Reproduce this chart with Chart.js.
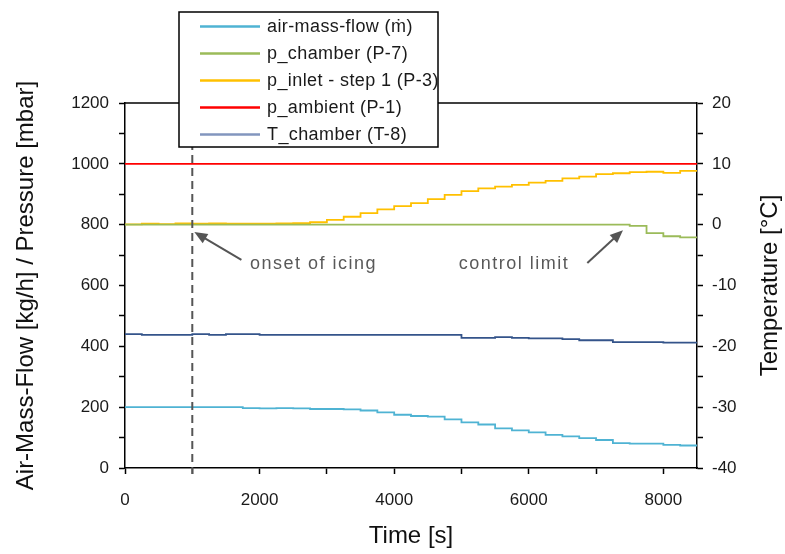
<!DOCTYPE html>
<html>
<head>
<meta charset="utf-8">
<script src="https://cdn.jsdelivr.net/npm/chart.js@4.4.0/dist/chart.umd.min.js"></script>
<style>
  html, body { margin: 0; padding: 0; background: #fff; }
</style>
</head>
<body>
<canvas id="chart" width="785" height="554"></canvas>
<script>
const timeS = [0, 250, 500, 750, 1000, 1250, 1500, 1750, 2000, 2250, 2500, 2750, 3000, 3250, 3500, 3750, 4000, 4250,
  4500, 4750, 5000, 5250, 5500, 5750, 6000, 6250, 6500, 6750, 7000, 7250, 7500, 7750, 8000, 8250, 8500];

const airMassFlow = [200, 200, 200, 200, 200, 200, 200, 200, 197, 196, 197, 196, 194, 194, 193, 189, 183, 175,
  171, 169, 160, 150, 143, 130, 124, 117, 109, 104, 98, 92, 82, 80, 80, 76, 74];
const pChamber = [800, 800, 800, 800, 800, 800, 800, 800, 800, 800, 800, 800, 800, 800, 800, 800, 800, 800,
  800, 800, 800, 800, 800, 800, 800, 800, 800, 800, 800, 800, 800, 796, 772, 762, 758];
const pInlet = [802, 801, 803, 802, 804, 803, 804, 803, 803, 803, 804, 805, 808, 816, 826, 838, 850, 861,
  871, 884, 898, 910, 919, 925, 931, 938, 944, 952, 958, 966, 969, 973, 974, 970, 977];
const pAmbient = [1000, 1000, 1000, 1000, 1000, 1000, 1000, 1000, 1000, 1000, 1000, 1000, 1000, 1000, 1000, 1000, 1000, 1000,
  1000, 1000, 1000, 1000, 1000, 1000, 1000, 1000, 1000, 1000, 1000, 1000, 1000, 1000, 1000, 1000, 1000];
const tChamber = [-18.1, -18.0, -18.1, -18.1, -18.1, -18.0, -18.1, -18.0, -18.0, -18.1, -18.1, -18.1, -18.1, -18.1, -18.1, -18.1, -18.1, -18.1,
  -18.1, -18.1, -18.1, -18.6, -18.6, -18.5, -18.6, -18.7, -18.7, -18.8, -19.0, -19.0, -19.3, -19.3, -19.3, -19.4, -19.4];

const seriesLabels = ["air-mass-flow (ṁ)", "p_chamber (P-7)", "p_inlet - step 1 (P-3)", "p_ambient (P-1)", "T_chamber (T-8)"];
const seriesColors = ["#4fb3d3", "#9bbb59", "#ffc000", "#ff0000", "#34548a"];

const xTicks = [0, 1000, 2000, 3000, 4000, 5000, 6000, 7000, 8000];
const xTickLabels = [0, 2000, 4000, 6000, 8000];
const leftTickLabels = [0, 200, 400, 600, 800, 1000, 1200];
const rightTickLabels = [-40, -30, -20, -10, 0, 10, 20];

// onset of icing marker, notes with arrows (data coords)
const icingTime = 1000;
const notes = [
  { text: "onset of icing", x: 2800, y: 672, tail: [1730, 684], head: [1030, 776] },
  { text: "control limit", x: 5780, y: 672, tail: [6870, 674], head: [7400, 782] }
];

const tickFont = { family: '"Liberation Sans", Arial, sans-serif', size: 17 };
const titleFont = { family: '"Liberation Sans", Arial, sans-serif', size: 24 };

function toPoints(arr) {
  return timeS.map((t, i) => ({ x: t, y: arr[i] }));
}

const frameAndNotes = {
  id: "frameAndNotes",
  afterDatasetsDraw(chart) {
    const { ctx, chartArea, scales } = chart;
    const { x, y } = scales;
    ctx.save();
    // top frame line
    ctx.strokeStyle = "#000";
    ctx.lineWidth = 1.5;
    ctx.beginPath();
    ctx.moveTo(chartArea.left, chartArea.top);
    ctx.lineTo(chartArea.right, chartArea.top);
    ctx.stroke();

    // dashed marker
    const xm = x.getPixelForValue(icingTime);
    ctx.strokeStyle = "#555";
    ctx.lineWidth = 2;
    ctx.setLineDash([8, 5]);
    ctx.beginPath();
    ctx.moveTo(xm, chartArea.top);
    ctx.lineTo(xm, chartArea.bottom + 6);
    ctx.stroke();
    ctx.setLineDash([]);

    notes.forEach((n) => {
      const x0 = x.getPixelForValue(n.tail[0]);
      const y0 = y.getPixelForValue(n.tail[1]);
      const x1 = x.getPixelForValue(n.head[0]);
      const y1 = y.getPixelForValue(n.head[1]);
      const ang = Math.atan2(y1 - y0, x1 - x0);
      ctx.strokeStyle = "#555";
      ctx.fillStyle = "#555";
      ctx.lineWidth = 2;
      ctx.beginPath();
      ctx.moveTo(x0, y0);
      ctx.lineTo(x1 - 8 * Math.cos(ang), y1 - 8 * Math.sin(ang));
      ctx.stroke();
      ctx.beginPath();
      ctx.moveTo(x1, y1);
      ctx.lineTo(x1 - 13 * Math.cos(ang) + 5.5 * Math.sin(ang), y1 - 13 * Math.sin(ang) - 5.5 * Math.cos(ang));
      ctx.lineTo(x1 - 13 * Math.cos(ang) - 5.5 * Math.sin(ang), y1 - 13 * Math.sin(ang) + 5.5 * Math.cos(ang));
      ctx.closePath();
      ctx.fill();

      ctx.font = '18px "Liberation Sans", Arial, sans-serif';
      ctx.letterSpacing = "1.5px";
      ctx.fillStyle = "#595959";
      ctx.textAlign = "center";
      ctx.textBaseline = "middle";
      ctx.fillText(n.text, x.getPixelForValue(n.x), y.getPixelForValue(n.y));
      ctx.letterSpacing = "0px";
    });
    ctx.restore();
  },
  afterDraw(chart) {
    const { ctx, chartArea } = chart;
    ctx.save();
    // right axis title, reading upward
    ctx.translate(770, (chartArea.top + chartArea.bottom) / 2);
    ctx.rotate(-Math.PI / 2);
    ctx.font = '24px "Liberation Sans", Arial, sans-serif';
    ctx.fillStyle = "#111";
    ctx.textAlign = "center";
    ctx.textBaseline = "middle";
    ctx.fillText("Temperature [°C]", 0, 0);
    ctx.restore();

    // boxed legend over the top of the plot
    ctx.save();
    ctx.fillStyle = "#fff";
    ctx.fillRect(179, 12, 259, 135);
    ctx.strokeStyle = "#000";
    ctx.lineWidth = 1.5;
    ctx.strokeRect(179, 12, 259, 135);
    ctx.font = '18px "Liberation Sans", Arial, sans-serif';
    ctx.letterSpacing = "0.4px";
    ctx.textBaseline = "middle";
    chart.data.datasets.forEach((ds, i) => {
      const ly = 26.5 + i * 27;
      ctx.strokeStyle = ds.legendColor || ds.borderColor;
      ctx.lineWidth = 2.5;
      ctx.beginPath();
      ctx.moveTo(200, ly);
      ctx.lineTo(260, ly);
      ctx.stroke();
      ctx.fillStyle = "#1a1a1a";
      ctx.fillText(ds.label, 267, ly + 1);
    });
    ctx.restore();
  }
};

const seriesData = [airMassFlow, pChamber, pInlet, pAmbient, tChamber];

new Chart(document.getElementById("chart"), {
  type: "line",
  data: {
    datasets: seriesData.map((arr, i) => ({
      label: seriesLabels[i],
      data: toPoints(arr),
      borderColor: seriesColors[i],
      legendColor: i === 4 ? "#8296be" : undefined,
      borderWidth: 1.8,
      pointRadius: 0,
      stepped: "after",
      yAxisID: i === 4 ? "y1" : "y",
    })),
  },
  options: {
    responsive: false,
    animation: false,
    layout: { padding: { top: 103, left: 0, right: 0, bottom: 0 } },
    plugins: {
      legend: { display: false },
      tooltip: { enabled: false },
    },
    scales: {
      x: {
        type: "linear",
        min: 0,
        max: 8500,
        afterBuildTicks: (s) => { s.ticks = xTicks.map((v) => ({ value: v })); },
        afterFit: (s) => { s.height = 86; },
        ticks: {
          autoSkip: false,
          maxRotation: 0,
          padding: 16,
          color: "#1a1a1a",
          font: tickFont,
          callback: (v) => (xTickLabels.includes(v) ? String(v) : ""),
        },
        grid: { drawOnChartArea: false, color: "#000", tickLength: 6, tickWidth: 1.5 },
        border: { color: "#000", width: 1.5 },
        title: { display: true, text: "Time [s]", font: titleFont, color: "#111", padding: { top: 0, bottom: 3 } },
      },
      y: {
        position: "left",
        min: 0,
        max: 1200,
        afterFit: (s) => { s.width = 125; },
        ticks: {
          stepSize: 100,
          autoSkip: false,
          padding: 10,
          color: "#1a1a1a",
          font: tickFont,
          callback: (v) => (leftTickLabels.includes(v) ? String(v) : ""),
        },
        grid: { drawOnChartArea: false, color: "#000", tickLength: 6, tickWidth: 1.5 },
        border: { color: "#000", width: 1.5 },
        title: { display: true, text: "Air-Mass-Flow [kg/h] / Pressure [mbar]", font: titleFont, color: "#111", padding: { top: 12, bottom: 0 } },
      },
      y1: {
        position: "right",
        min: -40,
        max: 20,
        afterFit: (s) => { s.width = 88; },
        ticks: {
          stepSize: 5,
          autoSkip: false,
          padding: 9,
          color: "#1a1a1a",
          font: tickFont,
          callback: (v) => (rightTickLabels.includes(v) ? String(v) : ""),
        },
        grid: { drawOnChartArea: false, color: "#000", tickLength: 6, tickWidth: 1.5 },
        border: { color: "#000", width: 1.5 },
      },
    },
  },
  plugins: [frameAndNotes],
});
</script>
</body>
</html>
